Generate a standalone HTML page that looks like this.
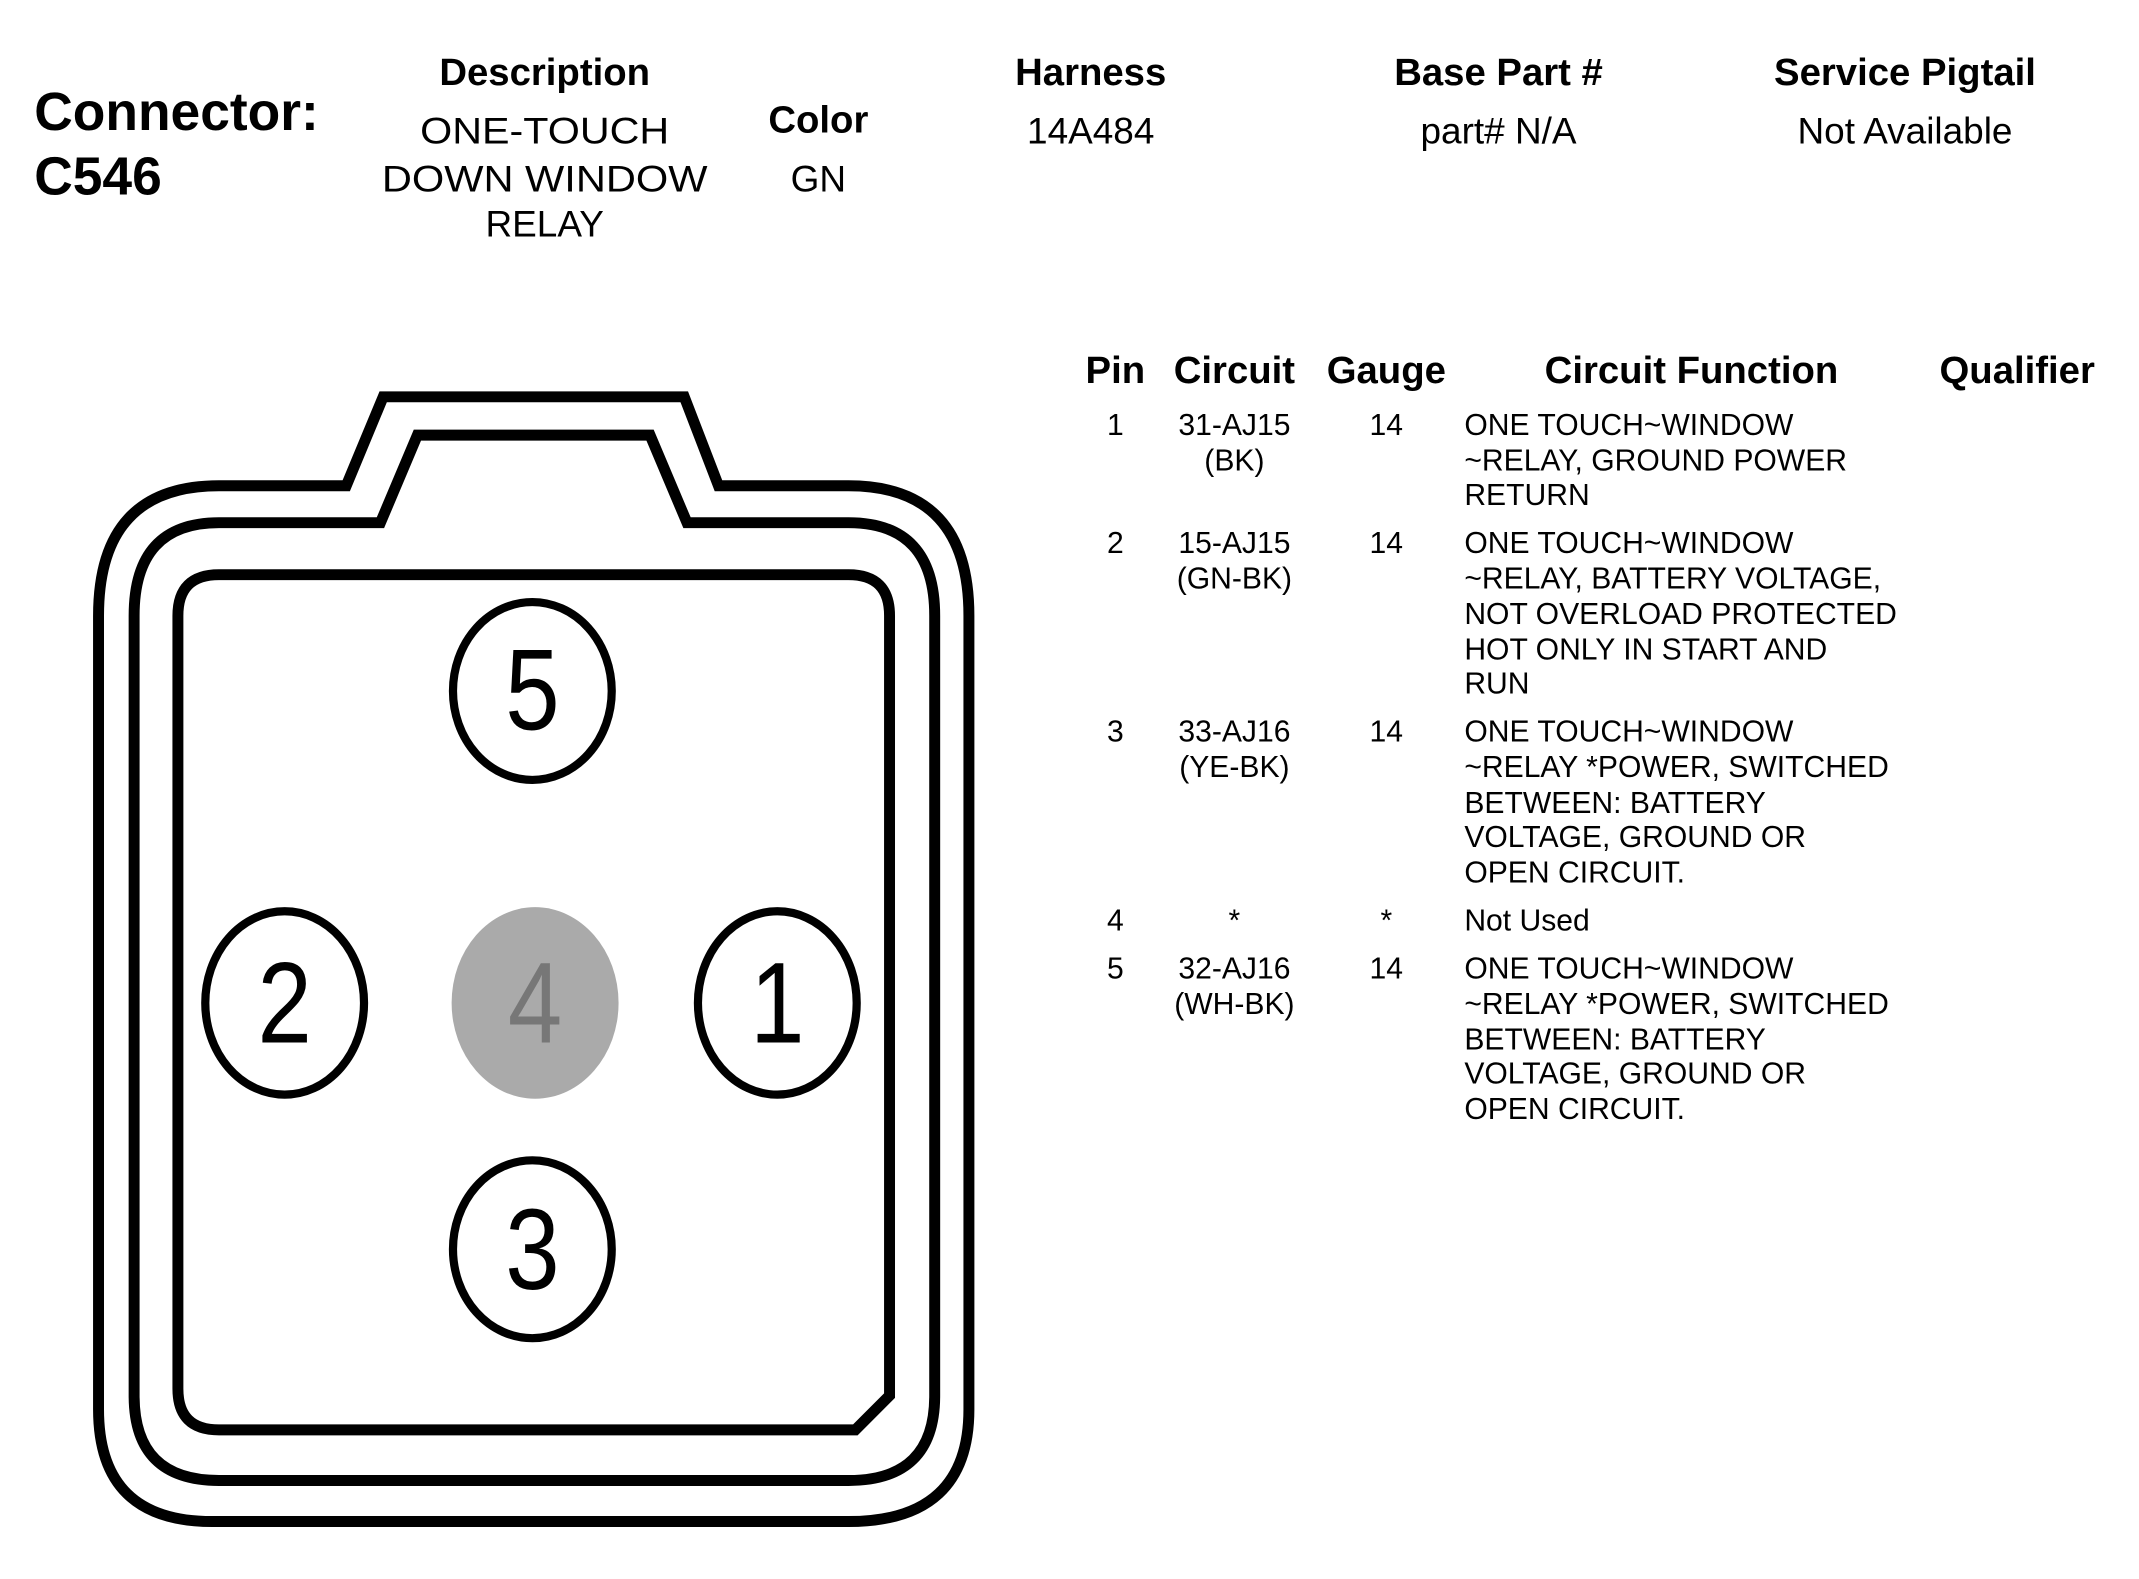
<!DOCTYPE html>
<html><head><meta charset="utf-8"><style>
html,body{margin:0;padding:0;background:#fff;}
svg{display:block;}
text{font-family:"Liberation Sans",Arial,sans-serif;fill:#000;}
.h{font-weight:bold;font-size:28px;text-anchor:middle;}
.v{font-size:27px;text-anchor:middle;}
.t{font-size:22px;}
.c{text-anchor:middle;}
</style></head><body>
<svg width="2139" height="1579" viewBox="0 0 1563 1154" preserveAspectRatio="none">
<text x="25" y="95" font-weight="bold" font-size="39">Connector:</text>
<text x="25" y="142" font-weight="bold" font-size="39">C546</text>
<text class="h" x="398" y="62">Description</text>
<text class="v" x="398" y="105" textLength="182" lengthAdjust="spacingAndGlyphs">ONE-TOUCH</text>
<text class="v" x="398" y="140" textLength="238" lengthAdjust="spacingAndGlyphs">DOWN WINDOW</text>
<text class="v" x="398" y="173">RELAY</text>
<text class="h" x="598" y="97">Color</text>
<text class="v" x="598" y="140">GN</text>
<text class="h" x="797" y="62">Harness</text>
<text class="v" x="797" y="105">14A484</text>
<text class="h" x="1095" y="62">Base Part #</text>
<text class="v" x="1095" y="105">part# N/A</text>
<text class="h" x="1392" y="62">Service Pigtail</text>
<text class="v" x="1392" y="105">Not Available</text>

<text class="h" x="815" y="280">Pin</text>
<text class="h" x="902" y="280">Circuit</text>
<text class="h" x="1013" y="280">Gauge</text>
<text class="h" x="1236" y="280">Circuit Function</text>
<text class="h" x="1474" y="280">Qualifier</text>

<g class="t">
<text class="c" x="815" y="318">1</text><text class="c" x="902" y="318">31-AJ15</text><text class="c" x="902" y="344">(BK)</text><text class="c" x="1013" y="318">14</text>
<text x="1070" y="318">ONE TOUCH~WINDOW</text><text x="1070" y="344">~RELAY, GROUND POWER</text><text x="1070" y="369">RETURN</text>
<text class="c" x="815" y="404">2</text><text class="c" x="902" y="404">15-AJ15</text><text class="c" x="902" y="430">(GN-BK)</text><text class="c" x="1013" y="404">14</text>
<text x="1070" y="404">ONE TOUCH~WINDOW</text><text x="1070" y="430">~RELAY, BATTERY VOLTAGE,</text><text x="1070" y="456">NOT OVERLOAD PROTECTED</text><text x="1070" y="482">HOT ONLY IN START AND</text><text x="1070" y="507">RUN</text>
<text class="c" x="815" y="542">3</text><text class="c" x="902" y="542">33-AJ16</text><text class="c" x="902" y="568">(YE-BK)</text><text class="c" x="1013" y="542">14</text>
<text x="1070" y="542">ONE TOUCH~WINDOW</text><text x="1070" y="568">~RELAY *POWER, SWITCHED</text><text x="1070" y="594">BETWEEN: BATTERY</text><text x="1070" y="619">VOLTAGE, GROUND OR</text><text x="1070" y="645">OPEN CIRCUIT.</text>
<text class="c" x="815" y="680">4</text><text class="c" x="902" y="680">*</text><text class="c" x="1013" y="680">*</text><text x="1070" y="680">Not Used</text>
<text class="c" x="815" y="715">5</text><text class="c" x="902" y="715">32-AJ16</text><text class="c" x="902" y="741">(WH-BK)</text><text class="c" x="1013" y="715">14</text>
<text x="1070" y="715">ONE TOUCH~WINDOW</text><text x="1070" y="741">~RELAY *POWER, SWITCHED</text><text x="1070" y="767">BETWEEN: BATTERY</text><text x="1070" y="792">VOLTAGE, GROUND OR</text><text x="1070" y="818">OPEN CIRCUIT.</text>
</g>

<g fill="none" stroke="#000" stroke-width="8">
<path d="M253,355 L280,290 L500,290 L525,355 L620,355 Q708,355 708,450 L708,1030 Q708,1112 620,1112 L155,1112 Q72,1112 72,1030 L72,450 Q72,355 160,355 Z"/>
<path d="M278,382 L305,318 L475,318 L502,382 L620,382 Q683,382 683,450 L683,1020 Q683,1082 620,1082 L160,1082 Q98,1082 98,1020 L98,450 Q98,382 160,382 Z"/>
<path d="M160,420 L620,420 Q650,420 650,450 L650,1020 L625,1045 L160,1045 Q130,1045 130,1015 L130,450 Q130,420 160,420 Z"/>
</g>
<g stroke="#000" stroke-width="6" fill="none">
<ellipse cx="389" cy="505" rx="58" ry="65"/>
<ellipse cx="208" cy="733" rx="58" ry="67"/>
<ellipse cx="568" cy="733" rx="58" ry="67"/>
<ellipse cx="389" cy="913" rx="58" ry="65"/>
</g>
<ellipse cx="391" cy="733" rx="61" ry="70" fill="#aaa"/>
<g font-size="84" text-anchor="middle">
<text transform="translate(389,533) scale(0.85,1)">5</text>
<text transform="translate(208,762) scale(0.85,1)">2</text>
<text transform="translate(391,762) scale(0.85,1)" style="fill:#777">4</text>
<text transform="translate(568,762) scale(0.85,1)">1</text>
<text transform="translate(389,942) scale(0.85,1)">3</text>
</g>
</svg>
</body></html>
